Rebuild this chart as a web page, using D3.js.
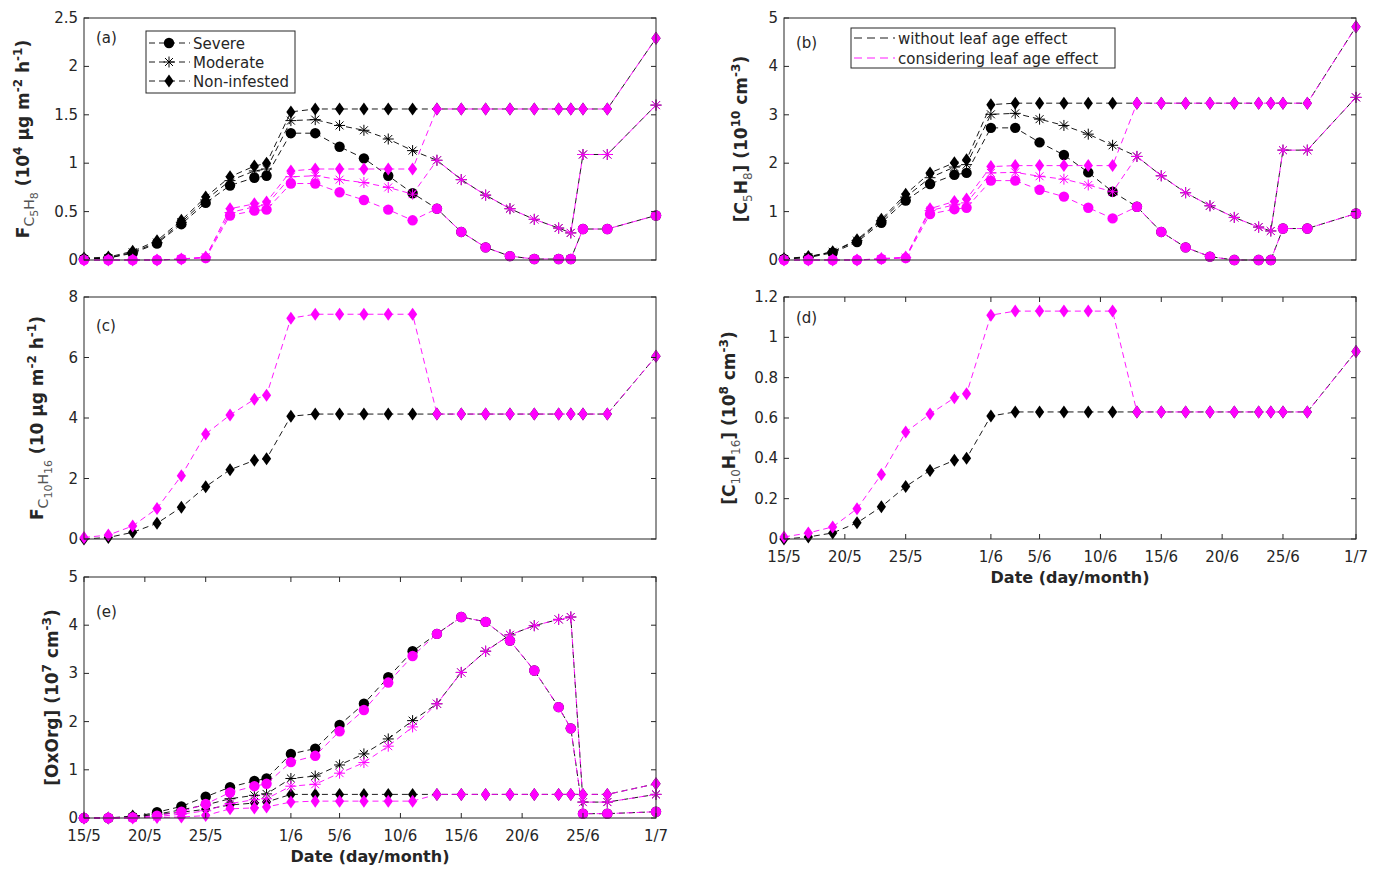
<!DOCTYPE html>
<html>
<head>
<meta charset="utf-8">
<script src="https://cdnjs.cloudflare.com/ajax/libs/d3/7.8.5/d3.min.js"></script>
<style>
  body { margin: 0; background: #fff; }
  text { font-family: "DejaVu Sans", sans-serif; fill: #262626; }
</style>
</head>
<body>
<div id="chart"></div>
<script>
// sampling days, counted from 15/5
var days = [0,2,4,6,8,10,12,14,15,17,19,21,23,25,27,29,31,33,35,37,39,40,41,43,47];
var tickDays = [0,5,10,17,21,26,31,36,41,47];
var tickLabels = ["15/5","20/5","25/5","1/6","5/6","10/6","15/6","20/6","25/6","1/7"];

// (a) isoprene emission flux
var aSevNo   = [0.01,0.02,0.07,0.17,0.37,0.59,0.77,0.85,0.87,1.31,1.31,1.17,1.05,0.87,0.69,0.53,0.29,0.13,0.04,0.01,0.01,0.01,0.32,0.32,0.46];
var aModNo   = [0.01,0.02,0.08,0.18,0.39,0.62,0.82,0.92,0.94,1.44,1.45,1.39,1.34,1.25,1.13,1.03,0.83,0.67,0.53,0.42,0.33,0.28,1.09,1.09,1.60];
var aNonNo   = [0.02,0.03,0.09,0.20,0.41,0.65,0.86,0.97,1.00,1.53,1.56,1.56,1.56,1.56,1.56,1.56,1.56,1.56,1.56,1.56,1.56,1.56,1.56,1.56,2.29];
var aSevLeaf = [0,0,0,0,0.01,0.02,0.46,0.51,0.52,0.79,0.79,0.70,0.62,0.52,0.41,0.53,0.29,0.13,0.04,0.01,0.01,0.01,0.32,0.32,0.46];
var aModLeaf = [0,0,0,0,0.01,0.03,0.49,0.55,0.57,0.86,0.87,0.83,0.80,0.75,0.68,1.03,0.83,0.67,0.53,0.42,0.33,0.28,1.09,1.09,1.60];
var aNonLeaf = [0,0,0,0,0.01,0.03,0.53,0.58,0.60,0.92,0.94,0.94,0.94,0.94,0.94,1.56,1.56,1.56,1.56,1.56,1.56,1.56,1.56,1.56,2.29];

// (b) isoprene concentration
var bSevNo   = [0.02,0.05,0.15,0.37,0.77,1.23,1.57,1.76,1.80,2.73,2.73,2.43,2.17,1.81,1.41,1.10,0.58,0.26,0.07,0,0,0,0.65,0.65,0.96];
var bModNo   = [0.02,0.06,0.17,0.40,0.81,1.30,1.70,1.92,1.97,3.01,3.03,2.91,2.78,2.60,2.37,2.14,1.74,1.39,1.12,0.88,0.68,0.60,2.27,2.27,3.36];
var bNonNo   = [0.03,0.07,0.17,0.42,0.84,1.36,1.80,2.01,2.07,3.21,3.24,3.24,3.24,3.24,3.24,3.24,3.24,3.24,3.24,3.24,3.24,3.24,3.24,3.24,4.82];
var bSevLeaf = [0,0,0,0,0.02,0.04,0.95,1.05,1.08,1.64,1.64,1.45,1.31,1.08,0.86,1.10,0.58,0.26,0.07,0,0,0,0.65,0.65,0.96];
var bModLeaf = [0,0,0,0,0.02,0.05,1.02,1.14,1.18,1.80,1.81,1.73,1.67,1.55,1.41,2.14,1.74,1.39,1.12,0.88,0.68,0.60,2.27,2.27,3.36];
var bNonLeaf = [0,0,0,0,0.03,0.06,1.06,1.21,1.26,1.93,1.95,1.95,1.95,1.95,1.95,3.24,3.24,3.24,3.24,3.24,3.24,3.24,3.24,3.24,4.82];

// (c) monoterpene emission flux
var cNonNo   = [0,0.05,0.22,0.52,1.05,1.73,2.29,2.60,2.65,4.06,4.13,4.13,4.13,4.13,4.13,4.13,4.13,4.13,4.13,4.13,4.13,4.13,4.13,4.13,6.04];
var cNonLeaf = [0.05,0.13,0.43,1.01,2.09,3.47,4.10,4.62,4.75,7.30,7.43,7.43,7.43,7.43,7.43,4.13,4.13,4.13,4.13,4.13,4.13,4.13,4.13,4.13,6.04];

// (d) monoterpene concentration
var dNonNo   = [0,0.01,0.03,0.08,0.16,0.26,0.34,0.39,0.40,0.61,0.63,0.63,0.63,0.63,0.63,0.63,0.63,0.63,0.63,0.63,0.63,0.63,0.63,0.63,0.93];
var dNonLeaf = [0.01,0.03,0.06,0.15,0.32,0.53,0.62,0.70,0.72,1.11,1.13,1.13,1.13,1.13,1.13,0.63,0.63,0.63,0.63,0.63,0.63,0.63,0.63,0.63,0.93];

// (e) oxidised organics
var eSevNo   = [0,0,0.02,0.12,0.24,0.44,0.64,0.77,0.82,1.33,1.44,1.93,2.37,2.92,3.46,3.82,4.17,4.07,3.68,3.06,2.30,1.86,0.09,0.09,0.13];
var eModNo   = [0,0,0.02,0.08,0.17,0.27,0.40,0.47,0.50,0.82,0.87,1.10,1.33,1.64,2.02,2.37,3.02,3.46,3.80,3.99,4.12,4.17,0.33,0.33,0.49];
var eNonNo   = [0,0,0.04,0.07,0.12,0.18,0.27,0.31,0.33,0.49,0.49,0.49,0.49,0.49,0.49,0.49,0.49,0.49,0.49,0.49,0.49,0.49,0.49,0.49,0.71];
var eSevLeaf = [0,0,0.01,0.05,0.13,0.29,0.53,0.66,0.71,1.16,1.29,1.80,2.24,2.81,3.36,3.82,4.17,4.07,3.68,3.06,2.30,1.86,0.09,0.09,0.13];
var eModLeaf = [0,0,0,0.03,0.08,0.15,0.30,0.38,0.40,0.66,0.70,0.93,1.15,1.49,1.89,2.37,3.02,3.46,3.80,3.99,4.12,4.17,0.33,0.33,0.49];
var eNonLeaf = [0,0,0,0.01,0.02,0.05,0.19,0.21,0.23,0.33,0.35,0.35,0.35,0.35,0.35,0.49,0.49,0.49,0.49,0.49,0.49,0.49,0.49,0.49,0.71];

var BLACK = "#000000", MAG = "#ff00ff";

var svg = d3.select("#chart").append("svg")
  .attr("width", 1382).attr("height", 878);
svg.append("rect").attr("width", 1382).attr("height", 878).attr("fill", "#fff");

// marker shapes
function starPath(r) {
  var d = r * 0.72;
  return "M0," + (-r) + "L0," + r + "M" + (-r) + ",0L" + r + ",0" +
    "M" + (-d) + "," + (-d) + "L" + d + "," + d + "M" + (-d) + "," + d + "L" + d + "," + (-d);
}
function drawMarker(g, kind, color) {
  if (kind == "circle") {
    g.append("circle").attr("r", 5.2).attr("fill", color).attr("stroke", "none");
  } else if (kind == "diamond") {
    g.append("path").attr("d", "M0,-6.5L4.6,0L0,6.5L-4.6,0Z").attr("fill", color);
  } else {
    g.append("path").attr("d", starPath(5.5)).attr("stroke", color)
      .attr("stroke-width", 1).attr("fill", "none");
  }
}

var panels = [
  { tag: "(a)", x0: 84, x1: 656, y0: 18, y1: 260, yMax: 2.5, yTicks: [0,0.5,1,1.5,2,2.5],
    labX: 29, dates: false, tagY: 43,
    series: [[aSevNo,"circle",BLACK],[aModNo,"star",BLACK],[aNonNo,"diamond",BLACK],
             [aSevLeaf,"circle",MAG],[aModLeaf,"star",MAG],[aNonLeaf,"diamond",MAG]] },
  { tag: "(b)", x0: 784, x1: 1356, y0: 18, y1: 260, yMax: 5, yTicks: [0,1,2,3,4,5],
    labX: 747, dates: false, tagY: 48,
    series: [[bSevNo,"circle",BLACK],[bModNo,"star",BLACK],[bNonNo,"diamond",BLACK],
             [bSevLeaf,"circle",MAG],[bModLeaf,"star",MAG],[bNonLeaf,"diamond",MAG]] },
  { tag: "(c)", x0: 84, x1: 656, y0: 297, y1: 539, yMax: 8, yTicks: [0,2,4,6,8],
    labX: 43, dates: false, tagY: 331,
    series: [[cNonNo,"diamond",BLACK],[cNonLeaf,"diamond",MAG]] },
  { tag: "(d)", x0: 784, x1: 1356, y0: 297, y1: 539, yMax: 1.2, yTicks: [0,0.2,0.4,0.6,0.8,1,1.2],
    labX: 735, dates: true, tagY: 323,
    series: [[dNonNo,"diamond",BLACK],[dNonLeaf,"diamond",MAG]] },
  { tag: "(e)", x0: 84, x1: 656, y0: 577, y1: 818, yMax: 5, yTicks: [0,1,2,3,4,5],
    labX: 58, dates: true, tagY: 617,
    series: [[eSevNo,"circle",BLACK],[eModNo,"star",BLACK],[eNonNo,"diamond",BLACK],
             [eSevLeaf,"circle",MAG],[eModLeaf,"star",MAG],[eNonLeaf,"diamond",MAG]] }
];

// rotated y labels, built from tspans: [text, subscript-level flag, bold, role]
var yLabels = [
  [["F",0,true],["C",5,false,"sub"],["5",4,false,"sub2"],["H",5,false,"sub"],["8",4,false,"sub2"],["  (10",0,true],["4",0,true,"sup"],[" \u03bcg m",0,true],["-2",0,true,"sup"],[" h",0,true],["-1",0,true,"sup"],[")",0,true]],
  [["[C",0,true],["5",0,false,"sub"],["H",0,true],["8",0,false,"sub"],["] (10",0,true],["10",0,true,"sup"],[" cm",0,true],["-3",0,true,"sup"],[")",0,true]],
  [["F",0,true],["C",5,false,"sub"],["10",4,false,"sub2"],["H",5,false,"sub"],["16",4,false,"sub2"],["  (10 \u03bcg m",0,true],["-2",0,true,"sup"],[" h",0,true],["-1",0,true,"sup"],[")",0,true]],
  [["[C",0,true],["10",0,false,"sub"],["H",0,true],["16",0,false,"sub"],["] (10",0,true],["8",0,true,"sup"],[" cm",0,true],["-3",0,true,"sup"],[")",0,true]],
  [["[OxOrg] (10",0,true],["7",0,true,"sup"],[" cm",0,true],["-3",0,true,"sup"],[")",0,true]]
];

panels.forEach(function(p, pi) {
  var x = d3.scaleLinear().domain([0, 47]).range([p.x0, p.x1]);
  var y = d3.scaleLinear().domain([0, p.yMax]).range([p.y1, p.y0]);
  var g = svg.append("g");

  // series lines then markers
  p.series.forEach(function(s) {
    var pts = days.map(function(d, i) { return [d, s[0][i]]; });
    var line = d3.line().x(function(d) { return x(d[0]); }).y(function(d) { return y(d[1]); });
    g.append("path").datum(pts).attr("d", line)
      .attr("fill", "none").attr("stroke", s[2]).attr("stroke-width", 0.9)
      .attr("stroke-dasharray", "6,4");
    pts.forEach(function(pt) {
      var m = g.append("g").attr("transform", "translate(" + x(pt[0]) + "," + y(pt[1]) + ")");
      drawMarker(m, s[1], s[2]);
    });
  });

  // frame
  g.append("rect").attr("x", p.x0).attr("y", p.y0)
    .attr("width", p.x1 - p.x0).attr("height", p.y1 - p.y0)
    .attr("fill", "none").attr("stroke", "#262626").attr("stroke-width", 1);

  // y ticks inward on both sides
  p.yTicks.forEach(function(t) {
    g.append("line").attr("x1", p.x0).attr("x2", p.x0 + 5).attr("y1", y(t)).attr("y2", y(t))
      .attr("stroke", "#262626");
    g.append("line").attr("x1", p.x1).attr("x2", p.x1 - 5).attr("y1", y(t)).attr("y2", y(t))
      .attr("stroke", "#262626");
    g.append("text").attr("x", p.x0 - 6).attr("y", y(t) + 5)
      .attr("text-anchor", "end").style("font-size", "15px").text(t);
  });

  if (p.dates) {
    tickDays.forEach(function(t, i) {
      g.append("line").attr("x1", x(t)).attr("x2", x(t)).attr("y1", p.y1).attr("y2", p.y1 - 5)
        .attr("stroke", "#262626");
      g.append("line").attr("x1", x(t)).attr("x2", x(t)).attr("y1", p.y0).attr("y2", p.y0 + 5)
        .attr("stroke", "#262626");
      g.append("text").attr("x", x(t)).attr("y", p.y1 + 22.5)
        .attr("text-anchor", "middle").style("font-size", "15px").text(tickLabels[i]);
    });
    g.append("text").attr("x", (p.x0 + p.x1) / 2).attr("y", p.y1 + 44)
      .attr("text-anchor", "middle").style("font-size", "16px").style("font-weight", "bold")
      .text("Date (day/month)");
  }

  g.append("text").attr("x", p.x0 + 12).attr("y", p.tagY).style("font-size", "15px").text(p.tag);

  // y label
  var lab = g.append("text")
    .attr("transform", "translate(" + p.labX + "," + ((p.y0 + p.y1) / 2) + ") rotate(-90)")
    .attr("text-anchor", "middle").style("font-size", "17px");
  var prevShift = 0;
  yLabels[pi].forEach(function(part) {
    var shift = 0, size = 17;
    if (part[3] == "sup") { shift = -7; size = 12; }
    if (part[3] == "sub") { shift = 5; size = part[1] ? 14 : 12; }
    if (part[3] == "sub2") { shift = 9; size = 11; }
    lab.append("tspan").attr("dy", shift - prevShift)
      .style("font-size", size + "px")
      .style("font-weight", part[2] ? "bold" : "normal")
      .style("fill", part[2] ? "#262626" : "#555")
      .text(part[0]);
    prevShift = shift;
  });
});

// legend (a)
var legA = svg.append("g");
legA.append("rect").attr("x", 146).attr("y", 31).attr("width", 149).attr("height", 62)
  .attr("fill", "#fff").attr("stroke", "#262626");
[["Severe","circle"],["Moderate","star"],["Non-infested","diamond"]].forEach(function(e, i) {
  var cy = 43 + i * 19;
  legA.append("line").attr("x1", 149).attr("x2", 190).attr("y1", cy).attr("y2", cy)
    .attr("stroke", BLACK).attr("stroke-width", 0.9).attr("stroke-dasharray", "6,4");
  drawMarker(legA.append("g").attr("transform", "translate(169," + cy + ")"), e[1], BLACK);
  legA.append("text").attr("x", 193).attr("y", cy + 5.5).style("font-size", "15px").text(e[0]);
});

// legend (b)
var legB = svg.append("g");
legB.append("rect").attr("x", 851).attr("y", 28).attr("width", 264).attr("height", 40)
  .attr("fill", "#fff").attr("stroke", "#262626");
[["without leaf age effect", BLACK],["considering leaf age effect", MAG]].forEach(function(e, i) {
  var cy = 38 + i * 20;
  legB.append("line").attr("x1", 854).attr("x2", 895).attr("y1", cy).attr("y2", cy)
    .attr("stroke", e[1]).attr("stroke-width", 0.9).attr("stroke-dasharray", "8,5");
  legB.append("text").attr("x", 898).attr("y", cy + 5.5).style("font-size", "15px").text(e[0]);
});
</script>
</body>
</html>
